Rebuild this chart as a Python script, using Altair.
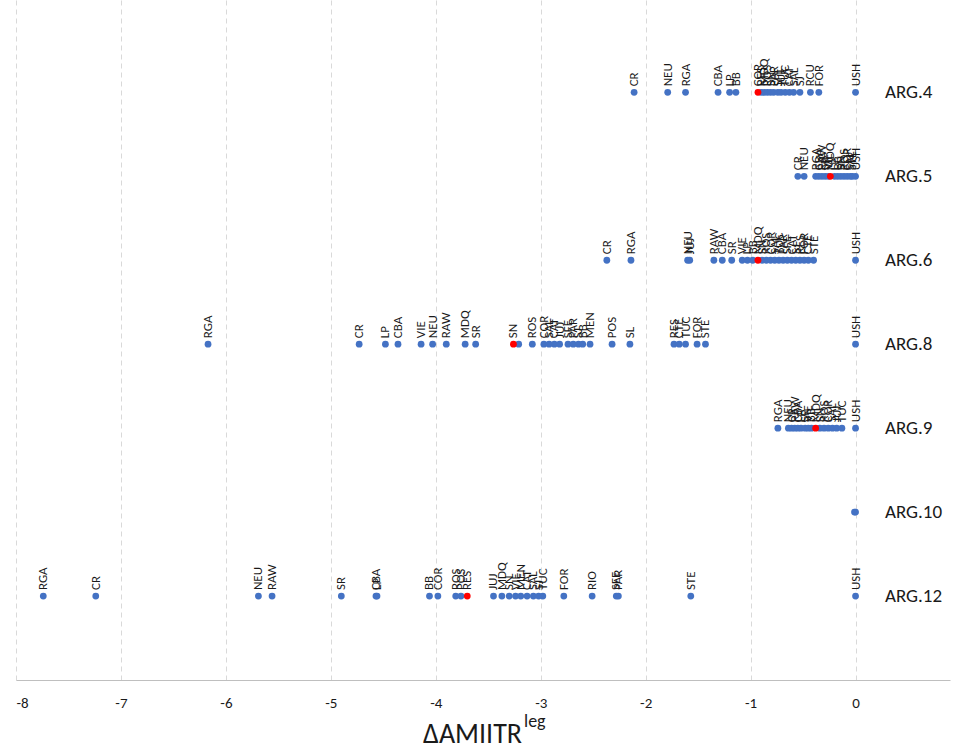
import altair as alt
import pandas as pd

# ---- data ----
row_names = ["ARG.4", "ARG.5", "ARG.6", "ARG.8", "ARG.9", "ARG.10", "ARG.12"]
row_index = [7, 6, 5, 4, 3, 2, 1]

arg4_labels = ["CR", "NEU", "RGA", "CBA", "LP", "BB", "COR", "RES", "MDQ", "ROS", "SN", "PAR",
               "SFE", "JUJ", "TUC", "CAT", "SAL", "SJ", "RCU", "FOR", "USH"]
arg4_values = [-2.11, -1.79, -1.62, -1.31, -1.20, -1.14, -0.93, -0.90, -0.87, -0.84, -0.81, -0.78,
               -0.74, -0.71, -0.67, -0.63, -0.59, -0.53, -0.43, -0.35, 0.0]

arg5_labels = ["CR", "NEU", "RGA", "CBA", "RAW", "SR", "VIE", "MDQ", "LP", "BB", "SN", "ROS",
               "COR", "SAL", "STE", "USH"]
arg5_values = [-0.55, -0.49, -0.38, -0.35, -0.32, -0.29, -0.26, -0.24, -0.20, -0.17, -0.14, -0.11,
               -0.08, -0.05, -0.03, 0.0]

arg6_labels = ["CR", "RGA", "NEU", "JUJ", "RAW", "CBA", "SR", "VIE", "LP", "BB", "MDQ", "SN",
               "ROS", "COR", "SAL", "TUC", "PAR", "SFE", "CAT", "SJ", "RES", "FOR", "CTE",
               "STE", "USH"]
arg6_values = [-2.37, -2.14, -1.60, -1.58, -1.35, -1.27, -1.18, -1.08, -1.03, -0.98, -0.93, -0.89,
               -0.85, -0.81, -0.77, -0.73, -0.69, -0.65, -0.61, -0.57, -0.53, -0.49, -0.45,
               -0.40, 0.0]

arg8_labels = ["RGA", "CR", "LP", "CBA", "VIE", "NEU", "RAW", "MDQ", "SR", "SN", "", "ROS",
               "COR", "SAL", "CAT", "JUJ", "SFE", "PAR", "SJ", "BB", "MEN", "POS", "SL",
               "RES", "CTE", "TUC", "FOR", "STE", "USH"]
arg8_values = [-6.17, -4.73, -4.48, -4.36, -4.14, -4.03, -3.90, -3.72, -3.62, -3.26, -3.21, -3.08,
               -2.97, -2.92, -2.87, -2.82, -2.74, -2.69, -2.64, -2.60, -2.53, -2.32, -2.15,
               -1.73, -1.68, -1.62, -1.51, -1.43, 0.0]

arg9_labels = ["RGA", "NEU", "CR", "RAW", "CBA", "LP", "SR", "VIE", "BB", "MDQ", "SN", "ROS",
               "COR", "SAL", "JUJ", "TUC", "USH"]
arg9_values = [-0.74, -0.64, -0.61, -0.58, -0.55, -0.52, -0.48, -0.45, -0.42, -0.38, -0.34, -0.30,
               -0.26, -0.22, -0.18, -0.13, 0.0]

arg10_labels = ["", ""]
arg10_values = [-0.01, 0.0]

arg12_labels = ["RGA", "CR", "NEU", "RAW", "SR", "CBA", "LP", "BB", "COR", "ROS", "POS", "RES",
                "JUJ", "MDQ", "SN", "VIE", "MEN", "CAT", "SAL", "SJ", "TUC", "FOR", "RIO",
                "SFE", "PAR", "STE", "USH"]
arg12_values = [-7.74, -7.24, -5.69, -5.56, -4.90, -4.57, -4.56, -4.06, -3.98, -3.81, -3.76, -3.70,
                -3.45, -3.37, -3.30, -3.24, -3.19, -3.13, -3.07, -3.02, -2.98, -2.78, -2.51,
                -2.28, -2.26, -1.57, 0.0]

# red (highlighted) point of each row, given by its label
highlight = {"ARG.4": "COR", "ARG.5": "MDQ", "ARG.6": "MDQ", "ARG.8": "SN",
             "ARG.9": "MDQ", "ARG.10": None, "ARG.12": "RES"}

x_ticks = [-8, -7, -6, -5, -4, -3, -2, -1, 0]

# ---- build table ----
series = {
    "ARG.4": (arg4_labels, arg4_values), "ARG.5": (arg5_labels, arg5_values),
    "ARG.6": (arg6_labels, arg6_values), "ARG.8": (arg8_labels, arg8_values),
    "ARG.9": (arg9_labels, arg9_values), "ARG.10": (arg10_labels, arg10_values),
    "ARG.12": (arg12_labels, arg12_values),
}
records = []
for name, idx in zip(row_names, row_index):
    labs, vals = series[name]
    for lab, val in zip(labs, vals):
        records.append({"row": name, "pos": idx, "label": lab, "value": val,
                        "red": lab == highlight[name]})
df = pd.DataFrame(records)
rows_df = pd.DataFrame({"row": row_names, "pos": row_index, "value": [0.28] * len(row_names)})

FONT = "Carlito, 'Liberation Sans Narrow', 'Liberation Sans', Arial, sans-serif"

xscale = alt.Scale(domain=[-8, 0.9], nice=False, zero=False)
yscale = alt.Scale(domain=[0, 8.1], nice=False, zero=False)

x_enc = alt.X("value:Q", scale=xscale,
              axis=alt.Axis(values=x_ticks, grid=True, gridDash=[5, 4], gridColor="#d9d9d9",
                            ticks=False, domainColor="#bfbfbf", labelFontSize=15,
                            labelPadding=15, labelColor="#1a1a1a", labelFont=FONT,
                            labelExpr="'' + datum.value", title=None))
y_enc = alt.Y("pos:Q", scale=yscale, axis=None)

base = alt.Chart(df)

blue_pts = base.transform_filter("!datum.red").mark_circle(
    size=46, color="#4472C4", opacity=1).encode(x=x_enc, y=y_enc)
red_pts = base.transform_filter("datum.red").mark_circle(
    size=46, color="#FF0000", opacity=1).encode(x="value:Q", y="pos:Q")
labels = base.mark_text(angle=270, align="left", baseline="middle", dx=6, fontSize=13,
                        font=FONT, color="#1a1a1a").encode(x="value:Q", y="pos:Q", text="label:N")
row_text = alt.Chart(rows_df).mark_text(align="left", baseline="middle", fontSize=19,
                                        font=FONT, color="#1a1a1a").encode(
    x="value:Q", y="pos:Q", text="row:N")

title_main = alt.Chart(pd.DataFrame({"t": ["ΔAMIITR"]})).mark_text(
    align="right", baseline="alphabetic", fontSize=28, font=FONT, color="#1a1a1a").encode(
    x=alt.value(506), y=alt.value(743), text="t:N")
title_sup = alt.Chart(pd.DataFrame({"t": ["leg"]})).mark_text(
    align="left", baseline="alphabetic", fontSize=18, font=FONT, color="#1a1a1a").encode(
    x=alt.value(508), y=alt.value(727), text="t:N")

chart = alt.layer(blue_pts, red_pts, labels, row_text, title_main, title_sup).properties(
    width=934, height=680,
    autosize=alt.AutoSizeParams(type="none"),
    padding={"left": 16, "top": 0, "right": 3, "bottom": 73},
    background="white",
).configure_view(stroke=None)

chart.save("out.html", embed_options={"renderer": "svg", "actions": False})
